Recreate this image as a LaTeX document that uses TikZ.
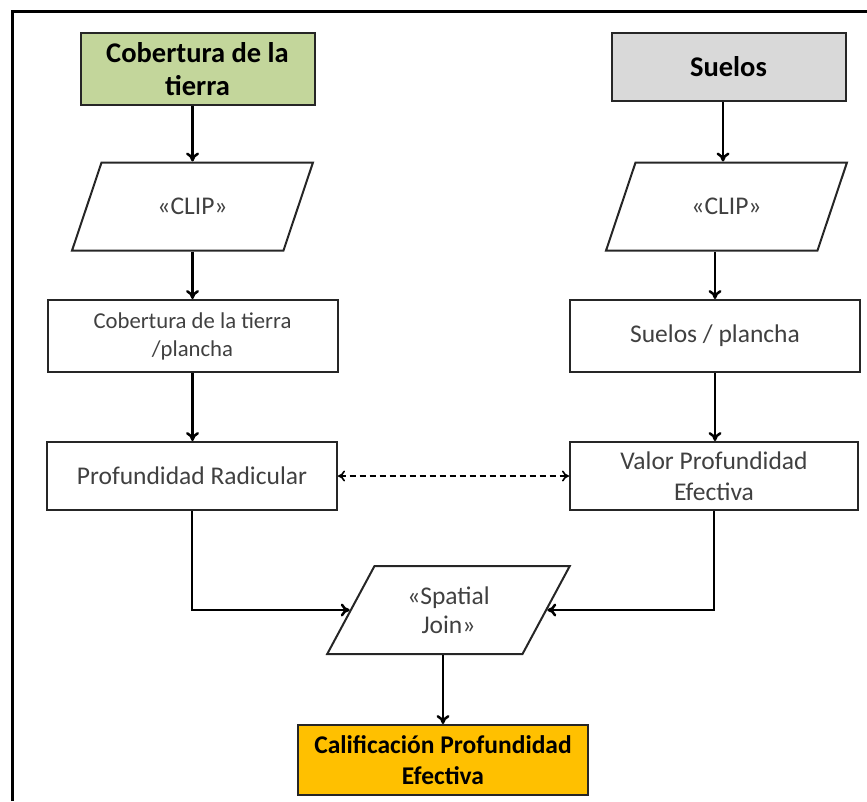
\documentclass[tikz,border=0pt]{standalone}
\usepackage{fontspec}
\setmainfont{Carlito}
\usetikzlibrary{shapes.geometric,arrows.meta}
\definecolor{tierraverde}{HTML}{C3D69B}
\definecolor{suelogris}{HTML}{D9D9D9}
\definecolor{califnaranja}{HTML}{FFC000}
\definecolor{textogris}{HTML}{404040}

\begin{document}
\begin{tikzpicture}[x=1pt, y=-1pt,
  caja/.style={draw=black!85, line width=2pt, rectangle, minimum width=290pt,
    minimum height=70pt, align=center, text=textogris,
    font=\fontsize{25.5}{31}\selectfont},
  entrada/.style={caja, font=\bfseries\fontsize{28.5}{33}\selectfont, text=black,
    minimum width=234pt},
  proceso/.style={draw=black!85, line width=2pt, trapezium, trapezium left angle=62,
    trapezium right angle=118, trapezium stretches=true, minimum width=241pt,
    minimum height=88pt, align=center, text=textogris,
    font=\fontsize{25.5}{29}\selectfont},
  flecha/.style={line width=2.5pt, -{To[length=9pt,width=13pt]}},
  enlace/.style={line width=1.6pt, dashed, dash pattern=on 6pt off 4pt,
    {To[length=7pt,width=11pt]}-{To[length=7pt,width=11pt]}}]
\useasboundingbox (0,0) rectangle (867,801);
% marco
\draw[line width=3pt] (12,801) -- (12,11) -- (867,11);
% entradas
\node[entrada, fill=tierraverde, minimum height=72pt] (cobertura) at (197.5,69) {Cobertura de la\\tierra};
\node[entrada, fill=suelogris, minimum height=68pt] (suelos) at (728.5,67) {Suelos};
% recortes
\node[proceso] (clipCob) at (192.5,206.5) {«CLIP»};
\node[proceso] (clipSue) at (726.5,206.5) {«CLIP»};
% capas por plancha
\node[caja, minimum height=72pt, font=\fontsize{22.7}{28}\selectfont] (cobPlancha) at (192.5,336) {Cobertura de la tierra\\/plancha};
\node[caja, minimum height=72pt] (suePlancha) at (715,336) {Suelos / plancha};
\node[caja, minimum height=68pt] (profRad) at (192,476) {Profundidad Radicular};
\node[caja, minimum height=68pt, minimum width=288pt] (valorProf) at (714,476) {Valor Profundidad\\Efectiva};
% union
\node[proceso, minimum width=243pt] (spatialJoin) at (448.5,610) {«Spatial\\Join»};
\node[entrada, fill=califnaranja, minimum width=290pt, minimum height=70pt,
  font=\bfseries\fontsize{25.5}{31}\selectfont] (calif) at (443,760) {Calificación Profundidad\\Efectiva};
% conectores
\draw[flecha] (cobertura.south -| clipCob.north) -- (clipCob.north);
\draw[flecha] (suelos.south -| 723,0) -- (clipSue.north -| 723,0);
\draw[flecha] (clipCob.south) -- (cobPlancha.north -| clipCob.south);
\draw[flecha] (clipSue.south -| suePlancha.north) -- (suePlancha.north);
\draw[flecha] (cobPlancha.south) -- (profRad.north -| cobPlancha.south);
\draw[flecha] (suePlancha.south) -- (valorProf.north -| suePlancha.south);
\draw[enlace] (profRad) -- (valorProf);
\draw[flecha] (profRad.south) |- (spatialJoin);
\draw[flecha] (valorProf.south) |- (spatialJoin);
\draw[flecha] (spatialJoin.south -| calif.north) -- (calif.north);
\end{tikzpicture}
\end{document}
